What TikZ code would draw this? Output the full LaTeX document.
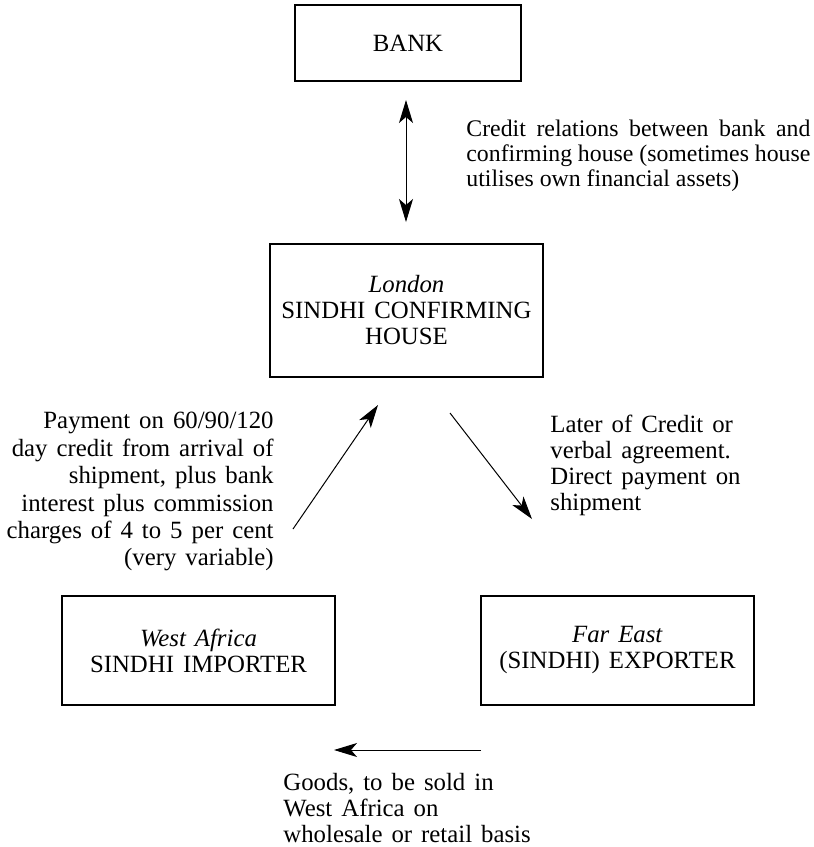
\documentclass[tikz,border=0pt]{standalone}
\usepackage{fontspec}
\setmainfont{Liberation Serif}[WordSpace=1.45]
\newfontfamily\plainsp{Liberation Serif}
\usetikzlibrary{arrows.meta}
\begin{document}
\begin{tikzpicture}[x=0.5pt,y=-0.5pt,
  every node/.style={font=\fontsize{12.4}{13}\selectfont, inner sep=0pt},
  box/.style={draw, line width=0.7pt},
  lbl/.style={},
  flow/.style={line width=0.5pt, -{Stealth[length=11.5pt,width=7pt,inset=3pt]}},
  bflow/.style={line width=0.5pt, {Stealth[length=11.5pt,width=7pt,inset=3pt]}-{Stealth[length=11.5pt,width=7pt,inset=3pt]}}]
\useasboundingbox (0,0) rectangle (814,847);

\node[box, minimum width=113pt, minimum height=38pt] (bank) at (408,43) {BANK};
\node[box, minimum width=136.5pt, minimum height=66.5pt, align=center] (london) at (406.5,310.5)
  {\textit{London}\\SINDHI CONFIRMING\\HOUSE};
\node[box, minimum width=136.5pt, minimum height=54.5pt, align=center] (importer) at (198.5,650.5)
  {\textit{West Africa}\\SINDHI IMPORTER};
\node[box, minimum width=136.5pt, minimum height=54.5pt, align=center] (exporter) at (617.5,650.5)
  {\textit{Far East}\\(SINDHI) EXPORTER};

\node[lbl, anchor=north west, align=left, font=\plainsp\fontsize{11.9}{12.3}\selectfont] (credit) at (466,120)
  {\makebox[172pt][s]{Credit relations between bank and}\\
   \makebox[172pt][s]{confirming house (sometimes house}\\
   utilises own financial assets)};
\node[lbl, anchor=north east, align=right, font=\fontsize{12.4}{13.7}\selectfont] (payment) at (274,412)
  {Payment on 60/90/120\\day credit from arrival of\\shipment, plus bank\\interest plus commission\\charges of 4 to 5 per cent\\(very variable)};
\node[lbl, anchor=north west, align=left] (later) at (550,415)
  {Later of Credit or\\verbal agreement.\\Direct payment on\\shipment};
\node[lbl, anchor=north west, align=left] (goods) at (283,773)
  {Goods, to be sold in\\West Africa on\\wholesale or retail basis};

\coordinate (b1) at (406,100);
\coordinate (b2) at (406,222);
\coordinate (p1) at (293,529);
\coordinate (p2) at (378,405);
\coordinate (l1) at (450,413);
\coordinate (l2) at (532,519);
\coordinate (g1) at (481,750);
\coordinate (g2) at (334,750);

\draw[bflow] (b1) -- (b2);
\draw[flow] (p1) -- (p2);
\draw[flow] (l1) -- (l2);
\draw[flow] (g1) -- (g2);
\end{tikzpicture}
\end{document}
